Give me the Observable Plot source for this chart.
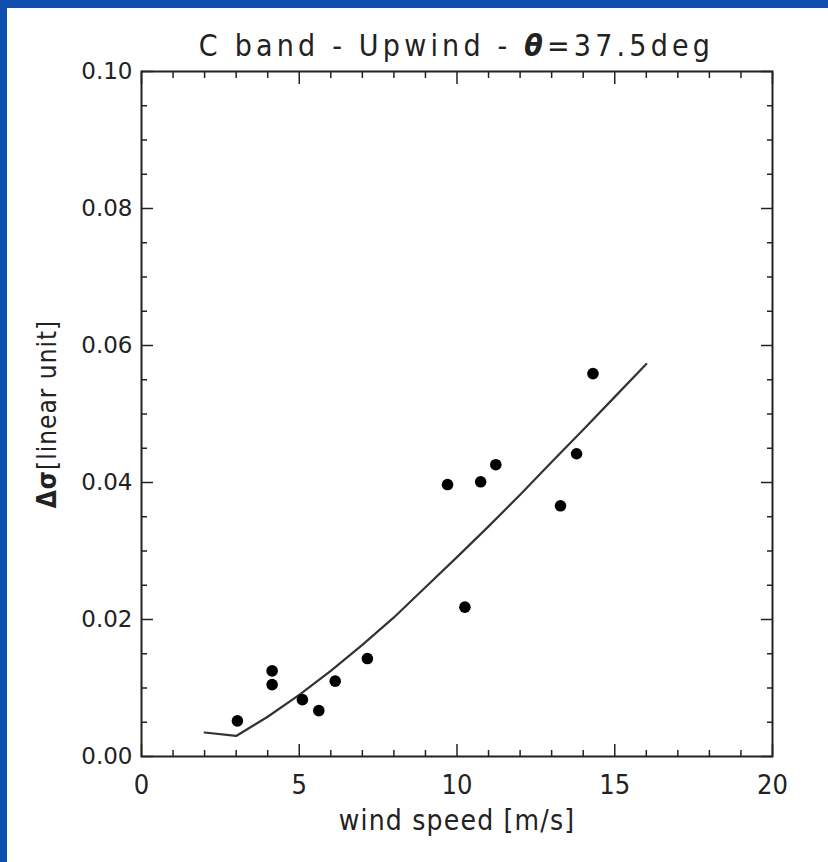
<!DOCTYPE html>
<html>
<head>
<meta charset="utf-8">
<script src="https://cdn.jsdelivr.net/npm/d3@7"></script>
<script src="https://cdn.jsdelivr.net/npm/@observablehq/plot@0.6"></script>
<style>
  body { margin: 0; background: #fff; }
  #page { position: relative; width: 828px; height: 862px; background: #fff; overflow: hidden; }
  .bar-top { position: absolute; left: 0; top: 0; width: 828px; height: 8px; background: #0f4fb0; }
  .bar-left { position: absolute; left: 0; top: 0; width: 7px; height: 862px; background: #0f4fb0; }
  #title { position: absolute; left: 141px; width: 631px; top: 31px; text-align: center;
           font-family: "DejaVu Sans Condensed", sans-serif; font-size: 30px; line-height: 30px;
           letter-spacing: 4.2px; color: #222; }
  #chart { position: absolute; left: 0; top: 60px; }
</style>
</head>
<body>
<div id="page">
  <div class="bar-top"></div>
  <div class="bar-left"></div>
  <div id="title">C band - Upwind - <b><i>θ</i></b>=37.5deg</div>
  <div id="chart"></div>
</div>
<script>
// observed points
const obsSpeed = [3.04, 4.14, 4.14, 5.10, 5.62, 6.14, 7.16, 9.70, 10.25, 10.75, 11.23, 13.28, 13.79, 14.31];
const obsDelta = [0.0052, 0.0125, 0.0105, 0.0083, 0.0067, 0.0110, 0.0143, 0.0397, 0.0218, 0.0401, 0.0426, 0.0366, 0.0442, 0.0559];
// model curve
const modelSpeed = [2, 3, 4, 5, 6, 7, 8, 9, 10, 11, 12, 13, 14, 15, 16];
const modelDelta = [0.0035, 0.0030, 0.0058, 0.0090, 0.0125, 0.0163, 0.0203, 0.0247, 0.0291, 0.0336, 0.0382, 0.0430, 0.0477, 0.0525, 0.0573];
// ticks
const xMajor = [0, 5, 10, 15, 20];
const xMinor = [1, 2, 3, 4, 6, 7, 8, 9, 11, 12, 13, 14, 16, 17, 18, 19];
const yMajor = [0, 0.02, 0.04, 0.06, 0.08, 0.10];
const yMinor = [0.005, 0.01, 0.015, 0.025, 0.03, 0.035, 0.045, 0.05, 0.055, 0.065, 0.07, 0.075, 0.085, 0.09, 0.095];
const xLabel = "wind speed [m/s]";
const yLabel = "Δσ[linear unit]";

const points = obsSpeed.map((s, i) => ({speed: s, delta: obsDelta[i]}));
const model = modelSpeed.map((s, i) => ({speed: s, delta: modelDelta[i]}));

const narrow = "'DejaVu Sans Condensed', sans-serif";
const ink = "#222";

const chart = Plot.plot({
  width: 828,
  height: 802,
  marginLeft: 141,
  marginRight: 56,
  marginTop: 11,
  marginBottom: 106,
  style: {background: "transparent", color: ink, overflow: "visible"},
  x: {domain: [0, 20]},
  y: {domain: [0, 0.1]},
  marks: [
    // bottom / top x ticks
    Plot.axisX({anchor: "bottom", ticks: xMajor, tickSize: -12, tickPadding: 30, label: null,
      tickFormat: d3.format("d"), fontSize: 27, fontFamily: narrow, stroke: ink, strokeWidth: 1.5}),
    Plot.axisX({anchor: "bottom", ticks: xMinor, tickSize: -6, label: null, tickFormat: () => "", stroke: ink, strokeWidth: 1.5}),
    Plot.axisX({anchor: "top", ticks: xMajor, tickSize: -12, label: null, tickFormat: () => "", stroke: ink, strokeWidth: 1.5}),
    Plot.axisX({anchor: "top", ticks: xMinor, tickSize: -6, label: null, tickFormat: () => "", stroke: ink, strokeWidth: 1.5}),
    // left / right y ticks
    Plot.axisY({anchor: "left", ticks: yMajor, tickSize: -12, tickPadding: 21, label: null,
      tickFormat: d3.format(".2f"), fontSize: 23, fontFamily: "'DejaVu Sans', sans-serif", stroke: ink, strokeWidth: 1.5}),
    Plot.axisY({anchor: "left", ticks: yMinor, tickSize: -6, label: null, tickFormat: () => "", stroke: ink, strokeWidth: 1.5}),
    Plot.axisY({anchor: "right", ticks: yMajor, tickSize: -12, label: null, tickFormat: () => "", stroke: ink, strokeWidth: 1.5}),
    Plot.axisY({anchor: "right", ticks: yMinor, tickSize: -6, label: null, tickFormat: () => "", stroke: ink, strokeWidth: 1.5}),
    Plot.frame({stroke: ink, strokeWidth: 2}),
    // axis titles
    Plot.text([xLabel], {frameAnchor: "bottom", dy: 73, text: d => d, fontSize: 28, fontFamily: narrow, fill: ink}),
    Plot.text([yLabel], {frameAnchor: "left", dx: -94, rotate: -90, text: d => d, fontSize: 26, fontFamily: narrow, fill: ink}),
    // data
    Plot.line(model, {x: "speed", y: "delta", stroke: "#333", strokeWidth: 2.2}),
    Plot.dot(points, {x: "speed", y: "delta", r: 5.8, fill: "#000", stroke: "none"})
  ]
});

// letter spacing for the narrow titles, and bold Δσ in the y label
d3.select(chart).selectAll("text").each(function() {
  if (this.textContent === xLabel) {
    this.setAttribute("letter-spacing", "1.2");
  }
  if (this.textContent === yLabel) {
    this.textContent = "";
    const t = d3.select(this).attr("text-anchor", "middle").attr("letter-spacing", "1");
    t.append("tspan").attr("font-weight", "bold").text("Δσ");
    t.append("tspan").text("[linear unit]");
  }
});

document.getElementById("chart").appendChild(chart);
</script>
</body>
</html>
